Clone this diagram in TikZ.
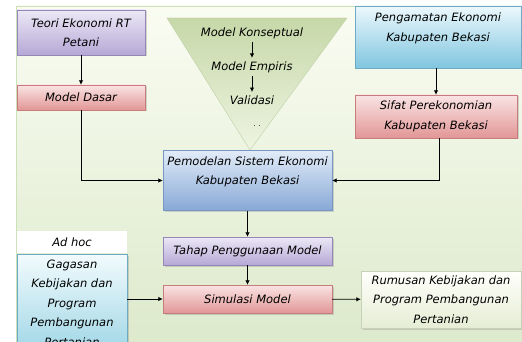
\documentclass[tikz,border=0pt]{standalone}
\usepackage{fontspec}
\setmainfont{DejaVu Sans}
\usetikzlibrary{arrows.meta,positioning,shadows}
\usepackage{xcolor}

\definecolor{bgTop}{RGB}{250,252,242}
\definecolor{bgBot}{RGB}{220,233,203}
\definecolor{bgLine}{RGB}{205,225,185}
\definecolor{purTop}{RGB}{236,232,246}
\definecolor{purBot}{RGB}{182,168,214}
\definecolor{purLine}{RGB}{150,135,185}
\definecolor{redTop}{RGB}{250,228,228}
\definecolor{redBot}{RGB}{226,150,150}
\definecolor{redLine}{RGB}{200,125,125}
\definecolor{bluTop}{RGB}{226,236,248}
\definecolor{bluBot}{RGB}{135,168,214}
\definecolor{bluLine}{RGB}{120,150,195}
\definecolor{cyaTop}{RGB}{236,248,252}
\definecolor{cyaBot}{RGB}{128,198,224}
\definecolor{cyaLine}{RGB}{110,170,195}
\definecolor{gagTop}{RGB}{242,251,253}
\definecolor{gagBot}{RGB}{160,214,230}
\definecolor{rumTop}{RGB}{255,255,252}
\definecolor{rumBot}{RGB}{230,237,212}
\definecolor{rumLine}{RGB}{200,208,185}
\definecolor{triTop}{RGB}{198,216,168}
\definecolor{triBot}{RGB}{238,244,226}
\definecolor{triLine}{RGB}{190,208,165}

\begin{document}
\begin{tikzpicture}[x=1pt, y=-1pt,
      txt/.style={font=\fontsize{11.5}{19.5}\selectfont\itshape, align=center},
      box/.style={txt, draw, inner sep=0pt, minimum width=#1,
        drop shadow={shadow xshift=1.5pt, shadow yshift=-1.5pt, opacity=0.3}},
      purbox/.style={box=#1, draw=purLine, top color=purTop, bottom color=purBot},
      redbox/.style={box=#1, draw=redLine, top color=redTop, bottom color=redBot},
      blubox/.style={box=#1, draw=bluLine, top color=bluTop, bottom color=bluBot},
      cyabox/.style={box=#1, draw=cyaLine, top color=cyaTop, bottom color=cyaBot},
      gagbox/.style={box=#1, draw=cyaLine, top color=gagTop, bottom color=gagBot},
      rumbox/.style={box=#1, draw=rumLine, top color=rumTop, bottom color=rumBot},
      arr/.style={-{Latex[length=4.5pt,width=4.5pt]}, line width=0.8pt},
      tri/.style={draw=triLine, top color=triTop, bottom color=triBot}
    ]
    \useasboundingbox (0,0) rectangle (522,342);
    \clip (0,0) rectangle (522,342);

    % background panel
    \shade[top color=bgTop, bottom color=bgBot] (16,6) rectangle (530,350);
    \draw[bgLine] (16,350) -- (16,6) -- (530,6);

    % model funnel
    \shade[tri] (167,18) -- (347,18) -- (250,150) -- cycle;
    \node[txt] (konsep)   at (252,33)  {Model Konseptual};
    \node[txt] (empiris)  at (252,67)  {Model Empiris};
    \node[txt] (validasi) at (252,100) {Validasi};
    \node[txt, font=\scriptsize] (dots) at (257,126) {. .};
    \draw[arr] (konsep) -- (empiris);
    \draw[arr] (empiris) -- (validasi);

    % left column
    \node[purbox=128pt, minimum height=45pt] (teori) at (81,32.5) {Teori Ekonomi RT\\Petani};
    \node[redbox=128pt, minimum height=25pt] (dasar) at (81,97.5) {Model Dasar};

    % right column
    \node[cyabox=166pt, minimum height=62pt] (amat)  at (438,37)    {Pengamatan Ekonomi\\Kabupaten Bekasi\\\mbox{}};
    \node[redbox=162pt, minimum height=43pt] (sifat) at (436,116.5) {Sifat Perekonomian\\Kabupaten Bekasi};

    % centre column
    \node[blubox=169pt, minimum height=60pt] (model) at (247.5,180.5) {Pemodelan Sistem Ekonomi\\Kabupaten Bekasi\\\mbox{}};
    \node[purbox=169pt, minimum height=28pt] (tahap) at (247.5,251)   {Tahap Penggunaan Model};
    \node[redbox=169pt, minimum height=28pt] (simul) at (247.5,299)   {Simulasi Model};

    % bottom left and right
    \node[txt, fill=white, inner sep=0pt, minimum width=110pt, minimum height=22pt] (adhoc) at (72,242) {Ad hoc};
    \node[gagbox=110pt, minimum height=98pt] (gagasan) at (72,303) {Gagasan\\Kebijakan dan\\Program\\Pembangunan\\Pertanian};
    \node[rumbox=160pt, minimum height=57pt] (rumusan) at (441,299.5) {Rumusan Kebijakan dan\\Program Pembangunan\\Pertanian};

    \draw[arr] (teori) -- (dasar);
    \draw[arr] (amat.south -| sifat) -- (sifat);
    \draw[arr] (dasar.south) |- (model.west);
    \draw[arr] ([xshift=3pt]sifat.south) |- (model.east);
    \draw[arr] (model) -- (tahap);
    \draw[arr] (tahap) -- (simul);
    \draw[arr] (gagasan.east |- simul.west) -- (simul.west);
    \draw[arr] (simul) -- (rumusan);
  \end{tikzpicture}
\end{document}
